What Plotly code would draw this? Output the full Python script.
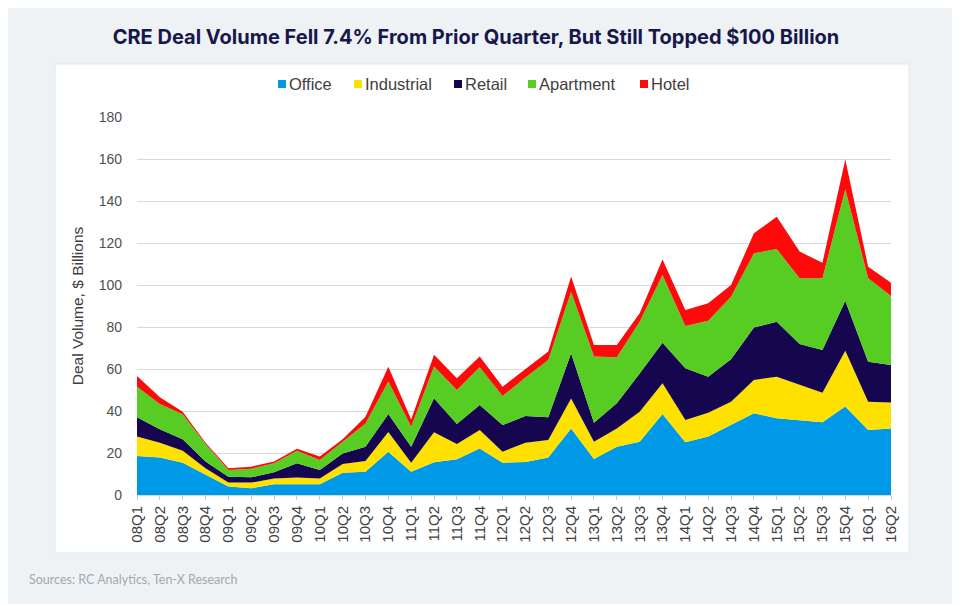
import plotly.graph_objects as go

quarters = [
    "08Q1", "08Q2", "08Q3", "08Q4", "09Q1", "09Q2", "09Q3", "09Q4",
    "10Q1", "10Q2", "10Q3", "10Q4", "11Q1", "11Q2", "11Q3", "11Q4",
    "12Q1", "12Q2", "12Q3", "12Q4", "13Q1", "13Q2", "13Q3", "13Q4",
    "14Q1", "14Q2", "14Q3", "14Q4", "15Q1", "15Q2", "15Q3", "15Q4",
    "16Q1", "16Q2",
]

# deal volume by property type, $ billions
office = [18.6, 17.9, 15.4, 9.5, 4.0, 3.2, 5.1, 5.1, 5.1, 10.6, 11.1, 20.6,
          11.1, 15.6, 17.0, 22.2, 15.4, 15.7, 17.9, 31.7, 17.1, 23.0, 25.4, 38.6,
          25.1, 27.8, 33.3, 38.9, 36.5, 35.4, 34.6, 42.1, 31.0, 31.7]
industrial = [9.2, 7.0, 5.7, 3.2, 2.0, 2.7, 2.7, 3.2, 2.8, 4.2, 5.1, 9.4,
              4.3, 14.3, 7.3, 8.8, 5.2, 9.2, 8.3, 14.3, 8.3, 8.7, 14.3, 14.6,
              10.6, 11.4, 11.1, 15.9, 19.8, 17.0, 14.1, 26.6, 13.4, 12.3]
retail = [9.2, 6.4, 5.4, 3.2, 2.7, 2.5, 3.0, 6.8, 4.0, 5.0, 6.8, 8.6,
          7.6, 16.2, 9.5, 11.9, 12.7, 12.7, 10.8, 21.5, 9.0, 12.0, 18.2, 19.3,
          24.6, 17.1, 20.2, 25.0, 26.2, 19.5, 20.3, 23.8, 19.1, 17.9]
apartment = [14.6, 12.0, 11.9, 8.4, 3.2, 4.1, 4.3, 6.0, 4.8, 5.6, 11.1, 15.4,
             9.5, 15.1, 16.2, 17.9, 13.8, 18.4, 27.3, 29.3, 31.5, 21.9, 24.6, 32.3,
             20.2, 26.7, 29.8, 35.3, 34.6, 31.3, 34.2, 53.1, 39.7, 32.9]
hotel = [5.1, 3.2, 1.3, 0.6, 0.8, 1.0, 0.8, 0.9, 1.6, 1.1, 3.2, 7.1,
         3.5, 5.6, 5.6, 5.1, 4.5, 3.8, 4.0, 7.2, 5.5, 5.8, 4.0, 7.4,
         7.6, 8.3, 5.6, 9.5, 15.4, 12.7, 7.4, 14.2, 5.5, 6.3]

names = ["Office", "Industrial", "Retail", "Apartment", "Hotel"]
colors = ["#0099e8", "#ffe100", "#16064f", "#57cc22", "#ff0a0a"]
values = [office, industrial, retail, apartment, hotel]

y_ticks = [0, 20, 40, 60, 80, 100, 120, 140, 160, 180]

# plot area in page pixels (page has an 8px body margin)
PL, PR, PT, PB = 137, 891, 117, 495


def px_x(p):
    return (p - PL) / (PR - PL)


def px_y(p):
    return (PB - p) / (PB - PT)


fig = go.Figure()

for name, vals, color in zip(names, values, colors):
    fig.add_trace(go.Scatter(
        x=quarters, y=vals, name=name, stackgroup="one", mode="lines",
        line=dict(width=0, color=color), fillcolor=color, showlegend=False,
    ))

# white card behind the chart
fig.add_shape(type="rect", xref="paper", yref="paper",
              x0=px_x(55), x1=px_x(909), y0=px_y(553), y1=px_y(64),
              fillcolor="white", line=dict(color="#e3e7eb", width=1), layer="below")

# legend drawn as squares + labels
legend_square_x = [282, 358, 458, 532, 644]
legend_y = px_y(84)
for name, color, sx in zip(names, colors, legend_square_x):
    fig.add_shape(type="rect", xref="paper", yref="paper",
                  xsizemode="pixel", ysizemode="pixel",
                  xanchor=px_x(sx), yanchor=legend_y,
                  x0=-4, x1=4, y0=-4, y1=4,
                  fillcolor=color, line=dict(width=0))
    fig.add_annotation(text=name, xref="paper", yref="paper",
                       x=px_x(sx + 5), y=legend_y, xanchor="left", yanchor="middle",
                       showarrow=False,
                       font=dict(family="Liberation Sans", size=16.5, color="#404040"))

fig.add_annotation(
    text="Sources: RC Analytics, Ten-X Research", xref="paper", yref="paper",
    x=px_x(27), y=px_y(579), xanchor="left", yanchor="middle", showarrow=False,
    font=dict(family="Lato", size=12.5, color="#a3a9ae"),
)

fig.update_layout(
    width=952, height=596,
    margin=dict(l=PL - 8, r=960 - PR, t=PT - 8, b=604 - PB),
    paper_bgcolor="#eef2f5", plot_bgcolor="white",
    title=dict(
        text="<b>CRE Deal Volume Fell 7.4% From Prior Quarter, But Still Topped $100 Billion</b>",
        x=(476 - 8) / 952, xanchor="center", y=1 - (37 - 8) / 596, yanchor="middle",
        font=dict(family="Inter", size=20, color="#17184a"),
    ),
    font=dict(family="Liberation Sans", size=13, color="#404040"),
    showlegend=False,
)

fig.update_xaxes(type="category", range=[0, 33], showgrid=False, tickangle=-90,
                 ticks="outside", ticklen=4, tickcolor="#c8c8c8", tickwidth=1,
                 showline=True, linecolor="#d9d9d9", linewidth=1,
                 tickfont=dict(size=15, color="#404040"))
fig.update_yaxes(range=[0, 180], tickvals=y_ticks, showgrid=True, gridcolor="#d9d9d9",
                 gridwidth=1, zeroline=False, ticks="",
                 ticklabelstandoff=14, tickfont=dict(size=14, color="#505050"),
                 title=dict(text="Deal Volume, $ Billions", standoff=11,
                            font=dict(size=15.5, color="#404040")))

fig.write_html("out.html")
